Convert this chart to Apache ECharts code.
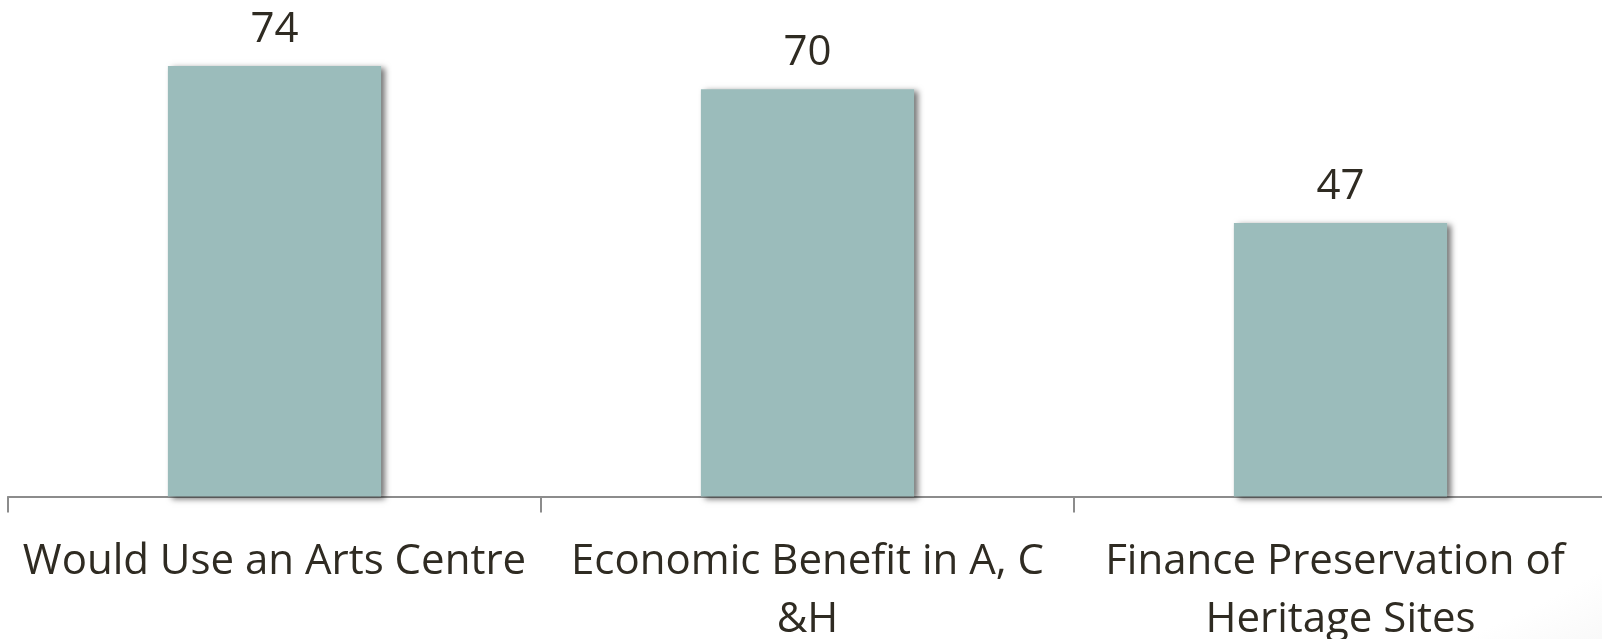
<!DOCTYPE html>
<html>
<head>
<meta charset="utf-8">
<script src="https://cdn.jsdelivr.net/npm/echarts@6/dist/echarts.min.js"></script>
<style>
html,body{margin:0;padding:0;background:#ffffff;}
#chart{width:1602px;height:639px;background:radial-gradient(ellipse 95% 110% at 40% 35%, #ffffff 80%, #ececec 100%);}
</style>
</head>
<body>
<div id="chart"></div>
<script>
const categories = ["Would Use an Arts Centre", "Economic Benefit in A, C &H", "Finance Preservation of Heritage Sites"];
const values = [74, 70, 47];

const chart = echarts.init(document.getElementById('chart'), null, {renderer: 'canvas'});
const FONT = "'Open Sans', sans-serif";
chart.setOption({
  animation: false,
  backgroundColor: 'transparent',
  grid: {left: 8, width: 1599, top: 31, bottom: 142.5, containLabel: false, outerBoundsMode: 'none'},
  xAxis: {
    type: 'category',
    data: categories,
    axisLine: {show: true, lineStyle: {color: '#8c8c8c', width: 2}},
    axisTick: {show: true, length: 16, lineStyle: {color: '#8c8c8c', width: 2}},
    axisLabel: {
      color: '#2f2b22', fontFamily: FONT, fontSize: 42, margin: 37,
      lineHeight: 58, width: 515, overflow: 'break', interval: 0,
      formatter: function (v) { return v.replace(' &', '\n&'); }
    }
  },
  yAxis: {
    type: 'value', min: 0, max: 80, show: false,
    splitLine: {show: false}
  },
  series: [{
    type: 'bar',
    data: values,
    barWidth: '40%',
    itemStyle: {
      color: '#9bbcbb',
      shadowColor: 'rgba(0,0,0,0.55)', shadowBlur: 6, shadowOffsetX: 4, shadowOffsetY: 2
    },
    label: {
      show: true, position: 'top', distance: 15,
      color: '#2f2b22', fontFamily: FONT, fontSize: 42
    }
  }]
});
</script>
</body>
</html>
